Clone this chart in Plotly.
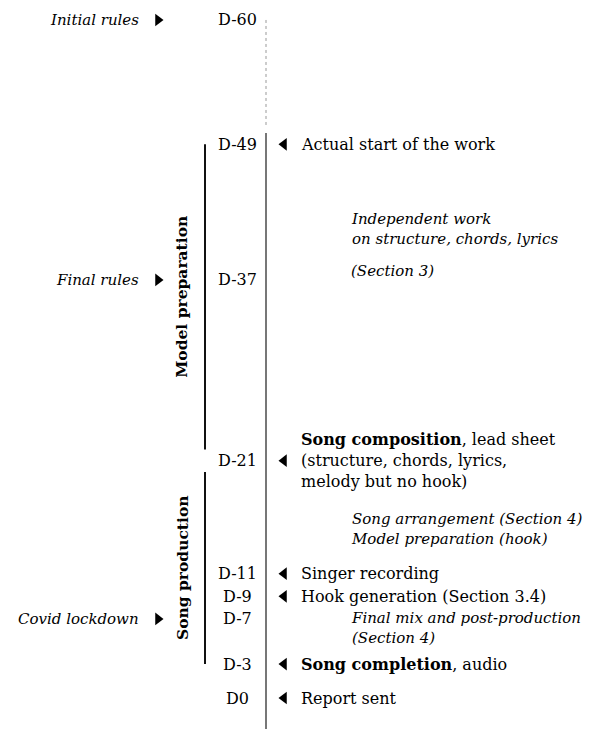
import plotly.graph_objects as go

# ---- data ----
tick_days = [-60, -49, -37, -21, -11, -9, -7, -3, 0]
tick_labels = ["D-60", "D-49", "D-37", "D-21", "D-11", "D-9", "D-7", "D-3", "D0"]

event_days = [-49, -21, -11, -9, -3, 0]
event_texts = [
    "Actual start of the work",
    "<b>Song composition</b>, lead sheet<br>(structure, chords, lyrics,<br>melody but no hook)",
    "Singer recording",
    "Hook generation (Section 3.4)",
    "<b>Song completion</b>, audio",
    "Report sent",
]

context_days = [-60, -37, -7]
context_texts = ["Initial rules", "Final rules", "Covid lockdown"]

note_days = [-41.5, -37.8, -15.0, -6.2]
note_texts = [
    "Independent work<br>on structure, chords, lyrics",
    "(Section 3)",
    "Song arrangement (Section 4)<br>Model preparation (hook)",
    "Final mix and post-production<br>(Section 4)",
]

phase_names = ["Model preparation", "Song production"]
phase_starts = [-49, -20]
phase_ends = [-22, -3]

dotted_span = [-60, -50.6]
solid_span = [-50, 3.4]

# ---- layout constants (x in screen pixels) ----
FONT = "DejaVu Serif"
FS = 16
FS_IT = 15
FS_PHASE = 15.5
X_AXIS = 266
X_TICK = 237
X_PHASE_LINE = 205
X_PHASE_LABEL = 182
X_EVENT_ARROW = 284
X_EVENT_TEXT = 299
X_CONTEXT_ARROW = 158
X_CONTEXT_TEXT = 141
X_NOTE = 349

fig = go.Figure()

# main timeline
fig.add_trace(go.Scatter(x=[X_AXIS, X_AXIS], y=dotted_span, mode="lines",
                         line=dict(color="#999999", width=1, dash="dot"),
                         hoverinfo="skip", showlegend=False))
fig.add_trace(go.Scatter(x=[X_AXIS, X_AXIS], y=solid_span, mode="lines",
                         line=dict(color="#777777", width=2),
                         hoverinfo="skip", showlegend=False))

# phase brackets
for name, s, e in zip(phase_names, phase_starts, phase_ends):
    fig.add_trace(go.Scatter(x=[X_PHASE_LINE, X_PHASE_LINE], y=[s, e], mode="lines",
                             line=dict(color="#111111", width=2),
                             hoverinfo="skip", showlegend=False))
    fig.add_annotation(x=X_PHASE_LABEL, y=(s + e) / 2, text=f"<b>{name}</b>",
                       textangle=-90, showarrow=False,
                       font=dict(family=FONT, size=FS_PHASE, color="black"))

# event arrows
fig.add_trace(go.Scatter(x=[X_EVENT_ARROW] * len(event_days), y=event_days, mode="markers",
                         marker=dict(symbol="triangle-left", size=11, color="black"),
                         hoverinfo="skip", showlegend=False))
# context arrows
fig.add_trace(go.Scatter(x=[X_CONTEXT_ARROW] * len(context_days), y=context_days, mode="markers",
                         marker=dict(symbol="triangle-right", size=11, color="black"),
                         hoverinfo="skip", showlegend=False))

for d, lab in zip(tick_days, tick_labels):
    fig.add_annotation(x=X_TICK, y=d, text=lab, showarrow=False, xanchor="center",
                       font=dict(family=FONT, size=FS, color="black"))

for d, t in zip(event_days, event_texts):
    fig.add_annotation(x=X_EVENT_TEXT, y=d, text=t, showarrow=False, xanchor="left",
                       align="left", font=dict(family=FONT, size=FS, color="black"))

for d, t in zip(context_days, context_texts):
    fig.add_annotation(x=X_CONTEXT_TEXT, y=d, text=f"<i>{t}</i>", showarrow=False,
                       xanchor="right", font=dict(family=FONT, size=FS_IT, color="black"))

for d, t in zip(note_days, note_texts):
    fig.add_annotation(x=X_NOTE, y=d, text=f"<i>{t}</i>", showarrow=False, xanchor="left",
                       align="left", font=dict(family=FONT, size=FS_IT, color="black"))

# y scale: 11.3 px per day; page body adds 8px offset, compensated in ranges
fig.update_layout(
    width=597, height=729,
    margin=dict(l=0, r=0, t=0, b=0),
    paper_bgcolor="white", plot_bgcolor="white",
    xaxis=dict(range=[8, 605], visible=False, fixedrange=True),
    yaxis=dict(range=[3.45, -61.06], visible=False, fixedrange=True),
    showlegend=False,
)

fig.write_html("out.html")
